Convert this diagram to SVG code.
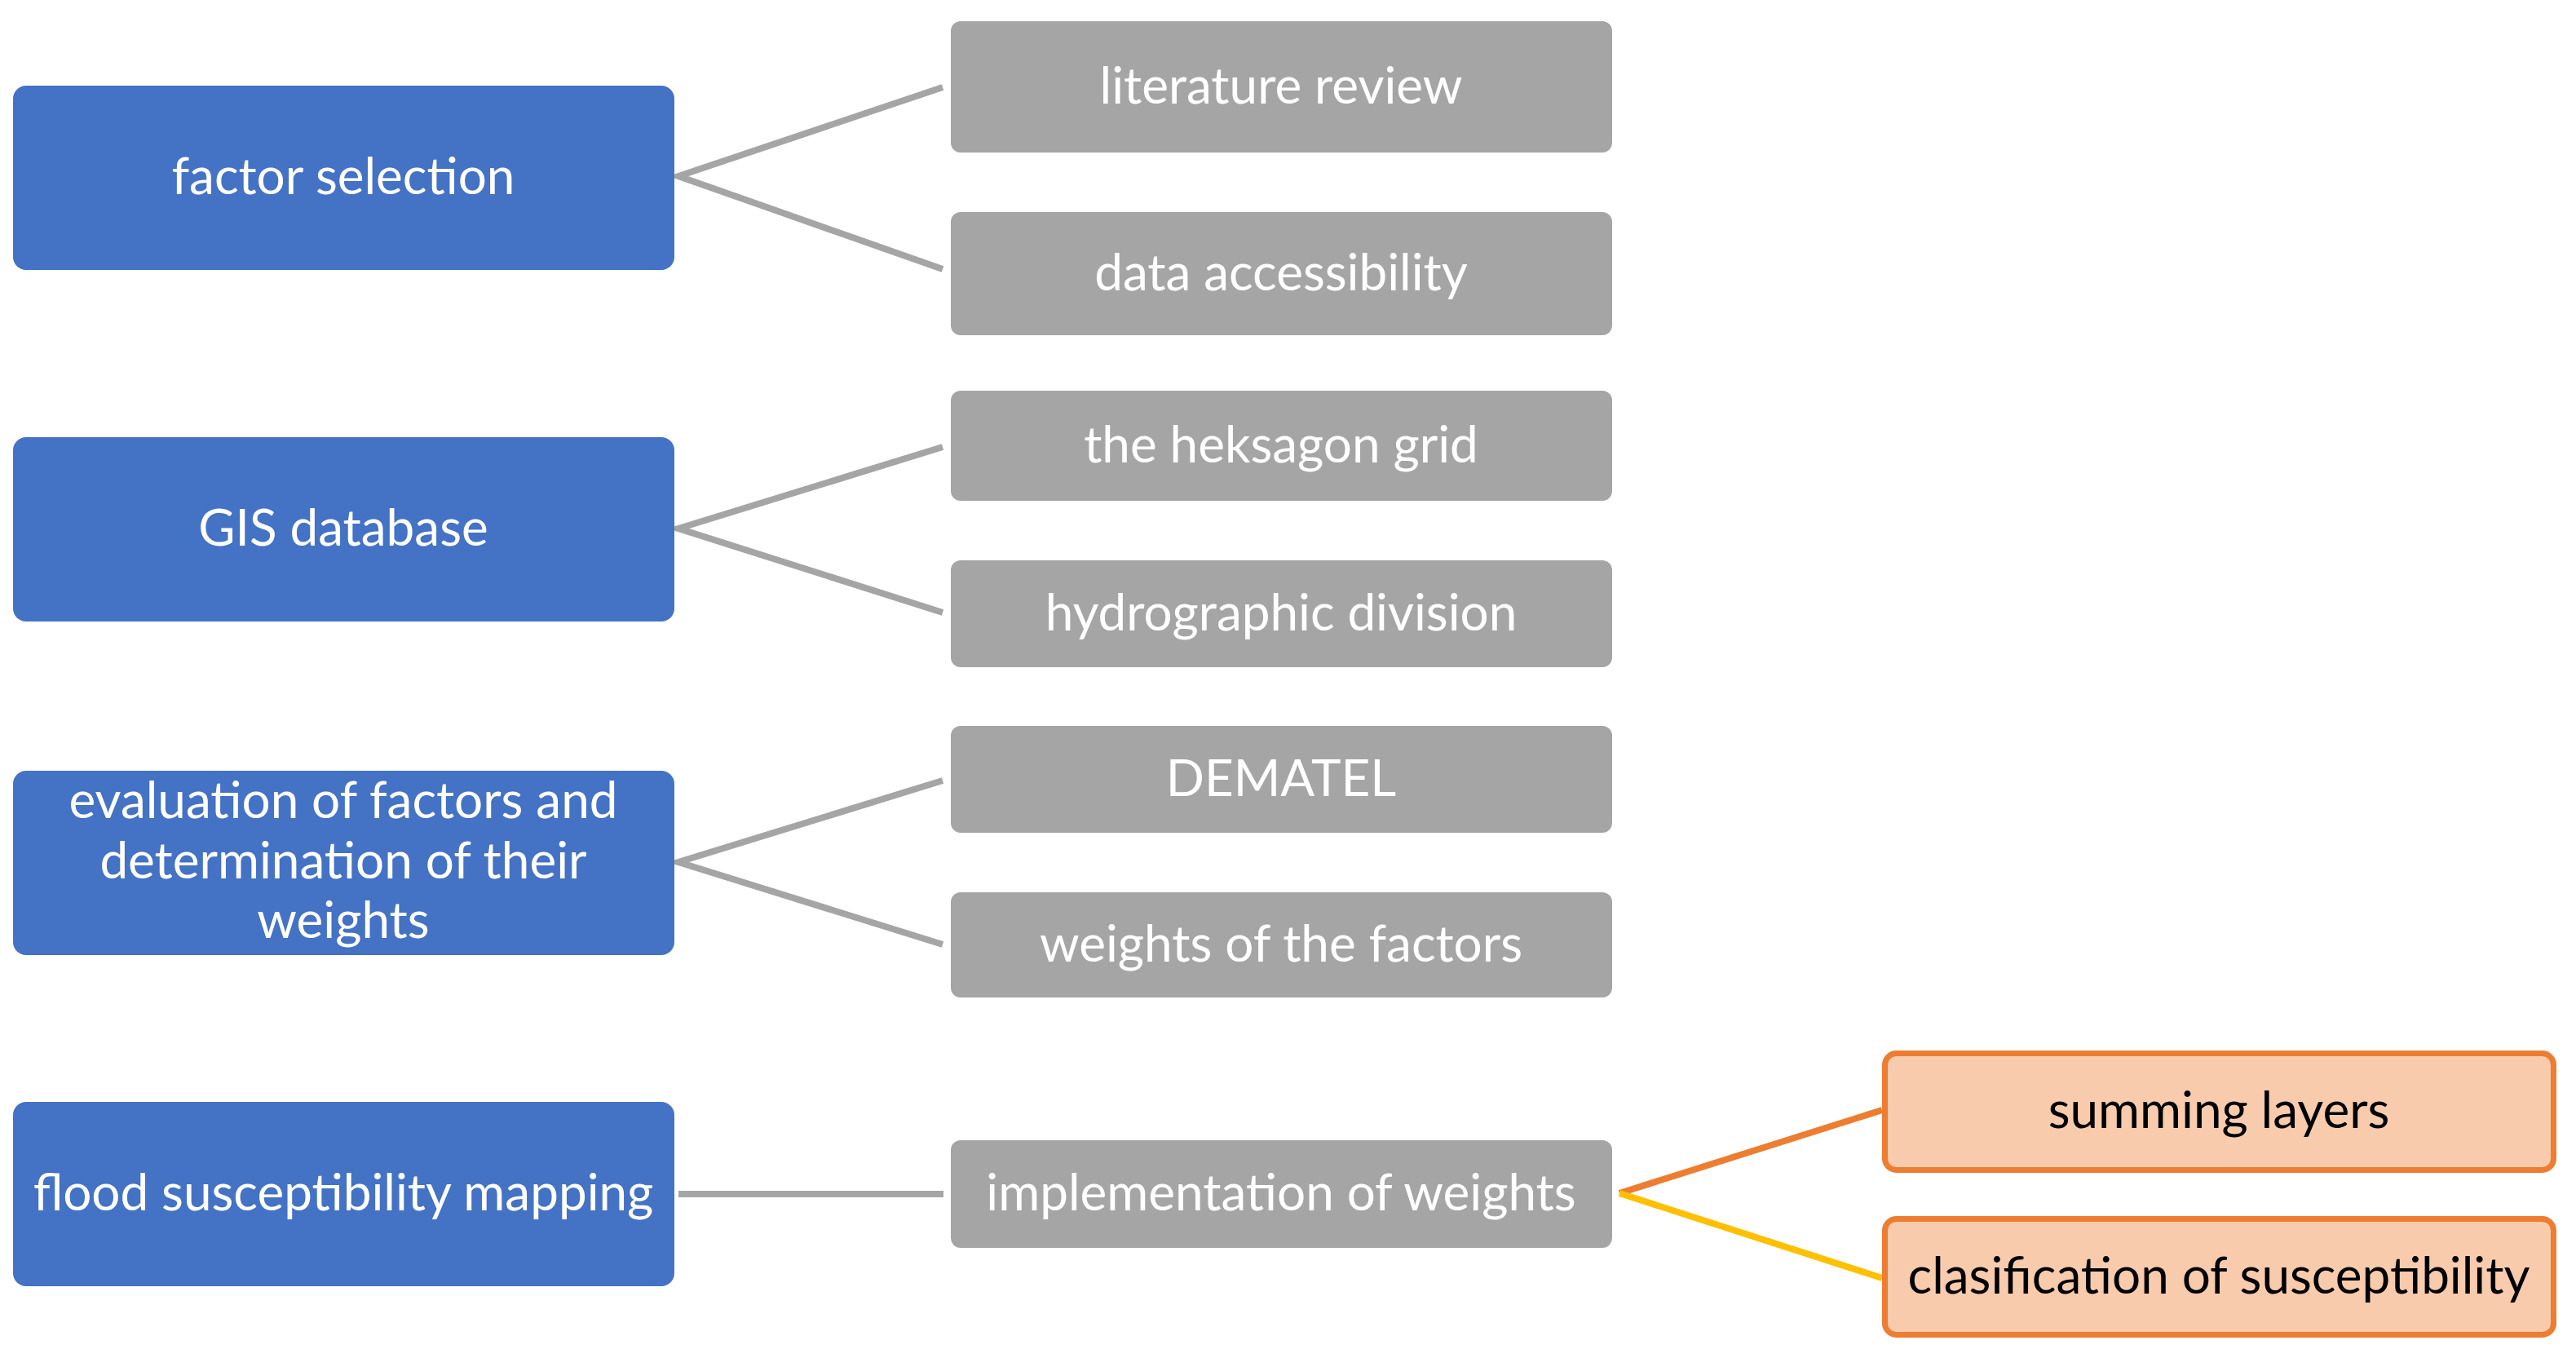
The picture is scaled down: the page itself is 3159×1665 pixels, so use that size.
<svg xmlns="http://www.w3.org/2000/svg" width="3159" height="1665" viewBox="0 0 3159 1665">
<style>
.blue{fill:#4472C4}
.gray{fill:#A5A5A5}
.peach{fill:#F8CBAD;stroke:#ED7D31;stroke-width:7}
.t{font-family:Lato,"Open Sans","Liberation Sans",sans-serif;font-size:62px;text-anchor:middle;fill:#FFFFFF}
.tb{font-family:Lato,"Open Sans","Liberation Sans",sans-serif;font-size:62px;text-anchor:middle;fill:#000000}
.c{fill:none;stroke:#A5A5A5;stroke-width:8}
</style>
<rect width="3159" height="1665" fill="#FFFFFF"/>
<g id="connectors">
<polyline class="c" points="1156,107 832,216 1156,330"/>
<polyline class="c" points="1156,548 832,648 1156,751"/>
<polyline class="c" points="1156,957 832,1057 1156,1158"/>
<line class="c" x1="832" y1="1464" x2="1157" y2="1464"/>
<line x1="1986" y1="1463" x2="2308" y2="1361" stroke="#ED7D31" stroke-width="8"/>
<line x1="1986" y1="1463" x2="2308" y2="1567" stroke="#FFC000" stroke-width="8"/>
</g>
<g id="factor-selection"><rect class="blue" x="16" y="105" width="811" height="226" rx="16"/><text class="t" x="421" y="238">factor selection</text></g>
<g id="gis-database"><rect class="blue" x="16" y="536" width="811" height="226" rx="16"/><text class="t" x="421" y="669">GIS database</text></g>
<g id="evaluation"><rect class="blue" x="16" y="945" width="811" height="226" rx="16"/><text class="t" x="421" y="1003">evaluation of factors and</text><text class="t" x="421" y="1077">determination of their</text><text class="t" x="421" y="1150">weights</text></g>
<g id="flood-mapping"><rect class="blue" x="16" y="1351" width="811" height="226" rx="16"/><text class="t" x="421" y="1484">flood susceptibility mapping</text></g>
<g id="literature-review"><rect class="gray" x="1166" y="26" width="811" height="161" rx="12"/><text class="t" x="1571" y="127">literature review</text></g>
<g id="data-accessibility"><rect class="gray" x="1166" y="260" width="811" height="151" rx="12"/><text class="t" x="1571" y="356">data accessibility</text></g>
<g id="heksagon-grid"><rect class="gray" x="1166" y="479" width="811" height="135" rx="12"/><text class="t" x="1571" y="567">the heksagon grid</text></g>
<g id="hydrographic-division"><rect class="gray" x="1166" y="687" width="811" height="131" rx="12"/><text class="t" x="1571" y="773">hydrographic division</text></g>
<g id="dematel"><rect class="gray" x="1166" y="890" width="811" height="131" rx="12"/><text class="t" x="1571" y="976">DEMATEL</text></g>
<g id="weights-of-factors"><rect class="gray" x="1166" y="1094" width="811" height="129" rx="12"/><text class="t" x="1571" y="1179">weights of the factors</text></g>
<g id="implementation"><rect class="gray" x="1166" y="1398" width="811" height="132" rx="12"/><text class="t" x="1571" y="1484">implementation of weights</text></g>
<g id="summing-layers"><rect class="peach" x="2311.5" y="1291.5" width="820" height="143" rx="14"/><text class="tb" x="2721" y="1383">summing layers</text></g>
<g id="clasification"><rect class="peach" x="2311.5" y="1494.5" width="820" height="142" rx="14"/><text class="tb" x="2721" y="1586">clasification of susceptibility</text></g>
</svg>
